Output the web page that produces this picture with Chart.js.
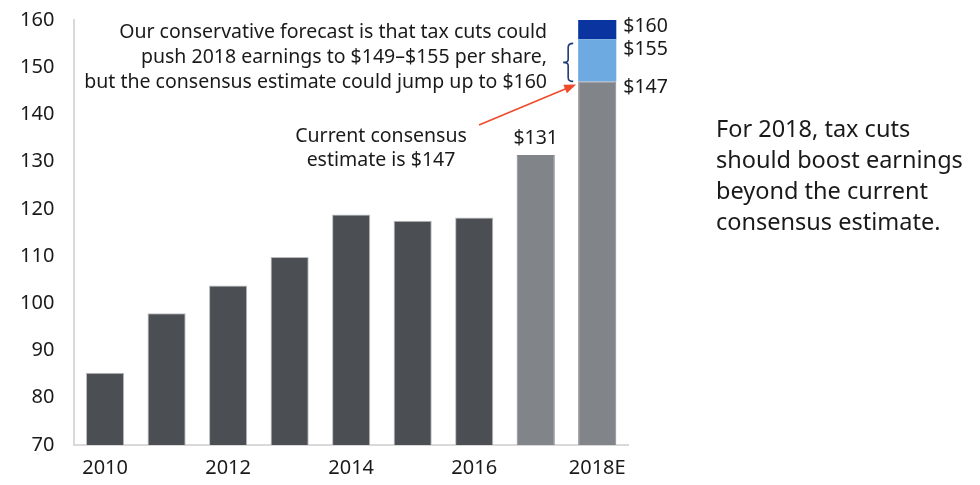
<!DOCTYPE html>
<html>
<head>
<meta charset="utf-8">
<script src="https://cdn.jsdelivr.net/npm/chart.js"></script>
<style>
  html, body { margin: 0; padding: 0; background: #fff; }
  #wrap { width: 980px; height: 485px; position: relative; }
</style>
</head>
<body>
<div id="wrap"><canvas id="epsChart"></canvas></div>
<script>
// S&P 500 earnings per share, actual and 2018 estimate
const years = ["2010", "2011", "2012", "2013", "2014", "2015", "2016", "2017", "2018E"];
const earnings = [85.3, 97.9, 103.8, 109.8, 118.8, 117.5, 118.2, 131.4, 147];
const forecastAdd = [null, null, null, null, null, null, null, null, 8.9];  // 147 -> ~156
const upsideAdd = [null, null, null, null, null, null, null, null, 4.2];    // -> ~160
const yTicks = [70, 80, 90, 100, 110, 120, 130, 140, 150, 160];

const noteLines = [
  "Our conservative forecast is that tax cuts could",
  "push 2018 earnings to $149\u2013$155 per share,",
  "but the consensus estimate could jump up to $160"
];
const currentNote = ["Current consensus", "estimate is $147"];
const sideNote = [
  "For 2018, tax cuts",
  "should boost earnings",
  "beyond the current",
  "consensus estimate."
];

const FONT = "'Noto Sans', 'Open Sans', sans-serif";
const textColor = "#1a1a1a";

const barColors = earnings.map((v, i) => i < 7 ? "#4b4e53" : "#818488");

const annotations = {
  id: "annotations",
  afterDatasetsDraw(chart) {
    const ctx = chart.ctx;
    const last = years.length - 1;
    const barMeta = chart.getDatasetMeta(0).data;
    const blueMeta = chart.getDatasetMeta(1).data[last];
    const navyMeta = chart.getDatasetMeta(2).data[last];

    ctx.save();
    ctx.fillStyle = textColor;
    ctx.font = "19.5px " + FONT;
    ctx.textBaseline = "middle";

    // value labels
    const b17 = barMeta[7];
    ctx.textAlign = "center";
    ctx.fillText("$131", b17.x, b17.y - 17);

    const b18 = barMeta[last];
    const rightX = b18.x + b18.width / 2 + 7;
    ctx.textAlign = "left";
    ctx.fillText("$160", rightX, navyMeta.y + 7);
    ctx.fillText("$155", rightX, blueMeta.y + 10);
    ctx.fillText("$147", rightX, b18.y + 6);

    // forecast note
    ctx.textAlign = "right";
    noteLines.forEach((t, i) => {
      ctx.fillText(t, 547, 32 + i * 25);
    });

    // current consensus note
    ctx.textAlign = "center";
    currentNote.forEach((t, i) => {
      ctx.fillText(t, 381, 136 + i * 24);
    });

    // bracket
    const bx = b18.x - b18.width / 2 - 10;
    const top = blueMeta.y + 4;
    const bot = b18.y;
    const mid = (top + bot) / 2;
    ctx.strokeStyle = "#1f3a78";
    ctx.lineWidth = 1.6;
    ctx.beginPath();
    ctx.moveTo(bx + 5, top);
    ctx.quadraticCurveTo(bx, top, bx, top + 4);
    ctx.lineTo(bx, mid - 3);
    ctx.quadraticCurveTo(bx, mid, bx - 5, mid);
    ctx.quadraticCurveTo(bx, mid, bx, mid + 3);
    ctx.lineTo(bx, bot - 4);
    ctx.quadraticCurveTo(bx, bot, bx + 5, bot);
    ctx.stroke();

    // arrow to current consensus
    const ax0 = 479, ay0 = 125;
    const ax1 = b18.x - b18.width / 2 - 2, ay1 = b18.y + 3;
    const ang = Math.atan2(ay1 - ay0, ax1 - ax0);
    ctx.strokeStyle = "#ef4a2b";
    ctx.fillStyle = "#ef4a2b";
    ctx.lineWidth = 1.6;
    ctx.beginPath();
    ctx.moveTo(ax0, ay0);
    ctx.lineTo(ax1 - 8 * Math.cos(ang), ay1 - 8 * Math.sin(ang));
    ctx.stroke();
    ctx.beginPath();
    ctx.moveTo(ax1, ay1);
    ctx.lineTo(ax1 - 12 * Math.cos(ang) + 4.5 * Math.sin(ang), ay1 - 12 * Math.sin(ang) - 4.5 * Math.cos(ang));
    ctx.lineTo(ax1 - 12 * Math.cos(ang) - 4.5 * Math.sin(ang), ay1 - 12 * Math.sin(ang) + 4.5 * Math.cos(ang));
    ctx.closePath();
    ctx.fill();

    // side note
    ctx.fillStyle = textColor;
    ctx.font = "23.5px " + FONT;
    ctx.textAlign = "left";
    sideNote.forEach((t, i) => {
      ctx.fillText(t, 716, 130 + i * 31);
    });
    ctx.restore();
  }
};

new Chart(document.getElementById("epsChart"), {
  type: "bar",
  data: {
    labels: years,
    datasets: [
      {
        label: "Earnings",
        data: earnings,
        backgroundColor: barColors,
        borderColor: earnings.map((v, i) => i < 7 ? "#b9bbbe" : "#818488"),
        borderWidth: 1,
        borderSkipped: "bottom",
        barPercentage: 0.62,
        categoryPercentage: 1
      },
      {
        label: "Conservative forecast",
        data: forecastAdd,
        backgroundColor: "#6eaae2",
        barPercentage: 0.62,
        categoryPercentage: 1
      },
      {
        label: "Consensus upside",
        data: upsideAdd,
        backgroundColor: "#0a34a0",
        barPercentage: 0.62,
        categoryPercentage: 1
      }
    ]
  },
  options: {
    responsive: true,
    maintainAspectRatio: false,
    animation: false,
    layout: { padding: { top: 20, right: 352, left: 0, bottom: -6 } },
    plugins: {
      legend: { display: false },
      tooltip: { enabled: false },
      title: { display: false }
    },
    scales: {
      x: {
        stacked: true,
        grid: { display: false, drawTicks: false },
        border: { display: true, color: "#d9d9d9", width: 2 },
        ticks: {
          color: textColor,
          font: { family: FONT, size: 20 },
          padding: 11,
          maxRotation: 0,
          autoSkip: false,
          callback: function(v, i) { return i % 2 === 0 ? years[i] : ""; }
        }
      },
      y: {
        stacked: true,
        min: yTicks[0],
        max: yTicks[yTicks.length - 1],
        grid: { display: false, drawTicks: false },
        border: { display: true, color: "#d9d9d9", width: 2 },
        afterBuildTicks: function(axis) {
          axis.ticks = yTicks.map(v => ({ value: v }));
        },
        afterFit: function(axis) {
          axis.paddingTop = 0;
        },
        ticks: {
          color: textColor,
          font: { family: FONT, size: 20 },
          padding: 20
        }
      }
    }
  },
  plugins: [annotations]
});
</script>
</body>
</html>
